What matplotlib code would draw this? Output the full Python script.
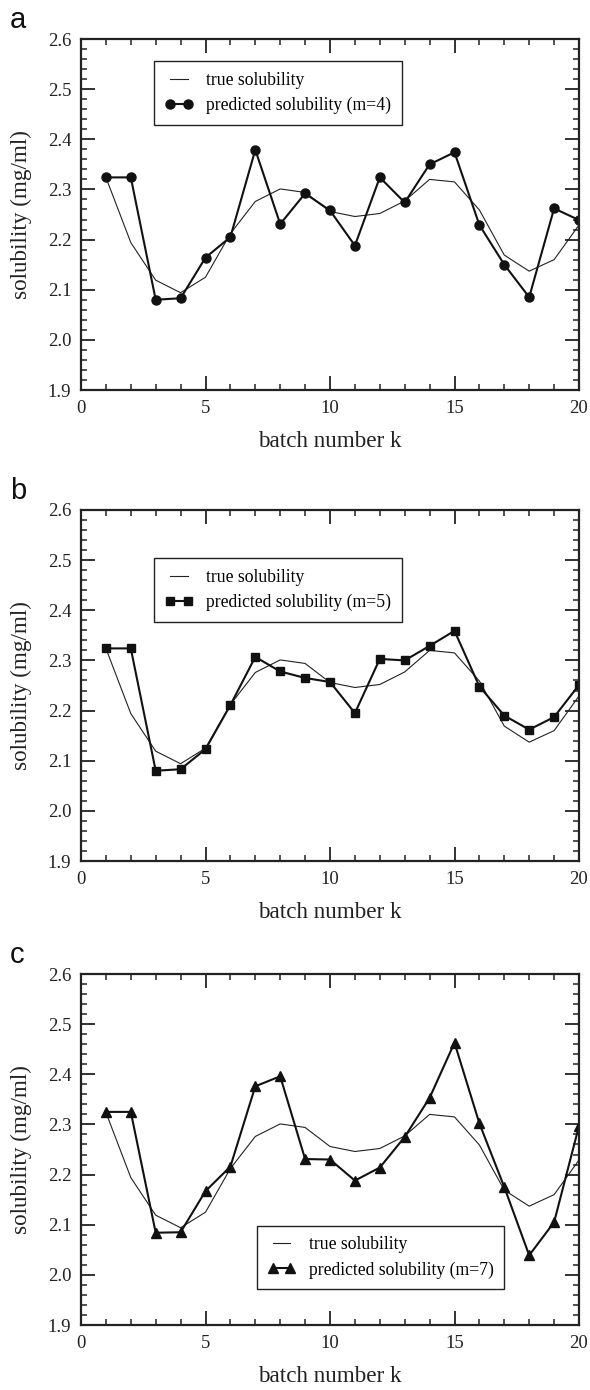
import matplotlib
matplotlib.use('Agg')
import matplotlib.pyplot as plt
from matplotlib.ticker import MultipleLocator

plt.rcParams['font.family'] = ['Liberation Serif', 'DejaVu Serif']

batch = list(range(1, 21))

# true solubility (same curve in all three panels)
true_sol = [2.324, 2.194, 2.119, 2.094, 2.125, 2.212, 2.276, 2.301, 2.294, 2.256,
            2.246, 2.252, 2.277, 2.320, 2.315, 2.259, 2.169, 2.137, 2.160, 2.229]

pred_m4 = [2.324, 2.324, 2.080, 2.083, 2.164, 2.205, 2.379, 2.231, 2.292, 2.258,
           2.188, 2.324, 2.274, 2.350, 2.374, 2.229, 2.150, 2.085, 2.262, 2.239]
pred_m5 = [2.324, 2.324, 2.080, 2.083, 2.123, 2.211, 2.307, 2.278, 2.265, 2.257,
           2.195, 2.303, 2.300, 2.329, 2.359, 2.248, 2.190, 2.162, 2.187, 2.251]
pred_m7 = [2.325, 2.325, 2.084, 2.085, 2.167, 2.216, 2.376, 2.396, 2.231, 2.230,
           2.188, 2.214, 2.275, 2.353, 2.463, 2.302, 2.175, 2.039, 2.105, 2.297]

yticks = [1.9, 2.0, 2.1, 2.2, 2.3, 2.4, 2.5, 2.6]
ylabels = ['1.9', '2.0', '2.1', '2.2', '2.3', '2.4', '2.5', '2.6']

panels = [
    ('a', pred_m4, 'o', 6.5, 'predicted solubility (m=4)', (0.147, 0.937)),
    ('b', pred_m5, 's', 5.6, 'predicted solubility (m=5)', (0.147, 0.862)),
    ('c', pred_m7, '^', 7.0, 'predicted solubility (m=7)', (0.353, 0.283)),
]

W, H = 590, 1390
fig = plt.figure(figsize=(W / 100, H / 100), dpi=100)

tops = [39, 510, 974]
for (letter, pred, mk, ms, lab, anchor), top in zip(panels, tops):
    left, right, hgt = 81, 579, 351
    ax = fig.add_axes([left / W, (H - top - hgt) / H, (right - left) / W, hgt / H])
    ax.plot(batch, true_sol, color='#222222', lw=0.8, label='true solubility')
    ax.plot(batch, pred, color='#111111', lw=1.5, marker=mk, ms=ms,
            label=lab)
    ax.set_xlim(0, 20)
    ax.set_ylim(1.9, 2.6)
    ax.xaxis.set_major_locator(MultipleLocator(5))
    ax.xaxis.set_minor_locator(MultipleLocator(1))
    ax.yaxis.set_minor_locator(MultipleLocator(0.02))
    ax.set_yticks(yticks)
    ax.set_yticklabels(ylabels)
    ax.tick_params(which='both', direction='in', top=True, right=True,
                   labelsize=13.5, colors='#222222')
    ax.tick_params(which='major', length=10, width=1.3, pad=7)
    ax.tick_params(which='minor', length=4.5, width=1.1)
    for s in ax.spines.values():
        s.set_linewidth(1.6)
        s.set_color('#222222')
    ax.set_xlabel('batch number k', fontsize=16.7, color='#222222')
    ax.set_ylabel('solubility (mg/ml)', fontsize=16.7, color='#222222')
    ax.xaxis.set_label_coords(0.5, -0.117)
    ax.yaxis.set_label_coords(-0.099, 0.5)
    leg = ax.legend(loc='upper left', bbox_to_anchor=anchor, borderaxespad=0,
                    fontsize=12.7, frameon=True, fancybox=False, framealpha=1,
                    edgecolor='#222222', numpoints=2, handlelength=1.6,
                    borderpad=0.6, labelspacing=0.45, handletextpad=0.75)
    leg.get_frame().set_linewidth(1.0)
    fig.text(10 / W, 1 - (top - 11) / H, letter, fontsize=21,
             family='Liberation Sans', va='baseline', ha='left', color='#111111')

fig.savefig('out.png', dpi=100)
